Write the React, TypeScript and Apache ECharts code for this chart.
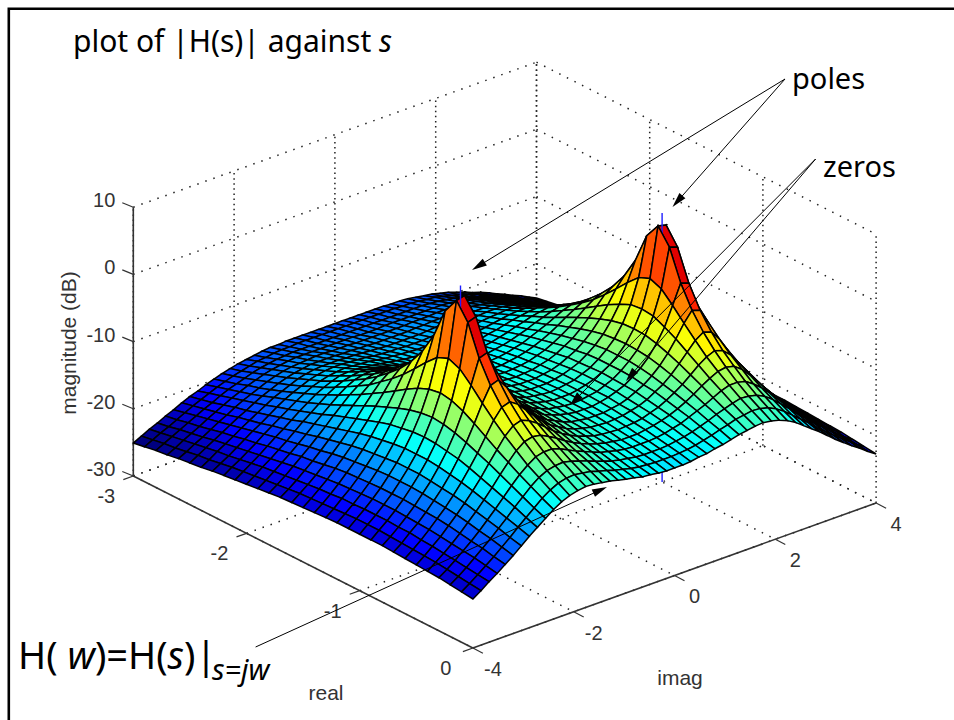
import React, { useEffect, useRef } from "react";
import * as echarts from "echarts";

// Sample positions of the surface
const realGrid = [-3, -2.9, -2.8, -2.7, -2.6, -2.5, -2.4, -2.3, -2.2, -2.1, -2, -1.9, -1.8, -1.7, -1.6, -1.5, -1.4, -1.3, -1.2, -1.1, -1, -0.9, -0.8, -0.7, -0.6, -0.5, -0.4, -0.3, -0.2, -0.1, 0];
const imagGrid = [-4, -3.84, -3.68, -3.52, -3.36, -3.2, -3.04, -2.88, -2.72, -2.56, -2.4, -2.24, -2.08, -1.92, -1.76, -1.6, -1.44, -1.28, -1.12, -0.96, -0.8, -0.64, -0.48, -0.32, -0.16, 0, 0.16, 0.32, 0.48, 0.64, 0.8, 0.96, 1.12, 1.28, 1.44, 1.6, 1.76, 1.92, 2.08, 2.24, 2.4, 2.56, 2.72, 2.88, 3.04, 3.2, 3.36, 3.52, 3.68, 3.84, 4];

// Magnitude in dB. The surface is mirror symmetric about real = -1 and imag = 0:
// one row per |real + 1| (0, 0.1 .. 2), one column per |imag| (0, 0.16 .. 4).
const magnitudeDb: number[][] = [
  [-12.0, -12.0, -11.8, -11.5, -11.1, -10.5, -9.8, -8.8, -7.5, -5.7, -3.2, 0.9, 8.3, 8.0, -0.2, -4.9, -8.1, -10.6, -12.7, -14.4, -15.9, -17.3, -18.5, -19.6, -20.6, -21.6],
  [-12.1, -12.0, -11.8, -11.6, -11.1, -10.6, -9.8, -8.8, -7.6, -5.8, -3.4, 0.2, 6.0, 5.6, -0.9, -5.2, -8.3, -10.7, -12.7, -14.4, -15.9, -17.3, -18.5, -19.6, -20.6, -21.6],
  [-12.1, -12.1, -11.9, -11.6, -11.2, -10.7, -9.9, -9.0, -7.8, -6.2, -4.2, -1.4, 1.5, 1.1, -2.5, -5.9, -8.7, -11.0, -12.9, -14.6, -16.0, -17.4, -18.6, -19.7, -20.7, -21.6],
  [-12.2, -12.2, -12.0, -11.8, -11.4, -10.8, -10.2, -9.3, -8.2, -6.8, -5.1, -3.2, -1.7, -2.1, -4.3, -6.9, -9.3, -11.3, -13.2, -14.8, -16.2, -17.5, -18.7, -19.7, -20.8, -21.7],
  [-12.4, -12.3, -12.2, -11.9, -11.6, -11.1, -10.4, -9.7, -8.7, -7.5, -6.2, -4.9, -4.1, -4.5, -6.0, -8.0, -10.0, -11.8, -13.5, -15.0, -16.4, -17.6, -18.8, -19.9, -20.9, -21.8],
  [-12.6, -12.5, -12.4, -12.2, -11.8, -11.4, -10.8, -10.1, -9.3, -8.3, -7.3, -6.5, -6.0, -6.4, -7.5, -9.1, -10.7, -12.4, -13.9, -15.3, -16.6, -17.8, -19.0, -20.0, -21.0, -21.9],
  [-12.8, -12.8, -12.6, -12.4, -12.1, -11.7, -11.2, -10.6, -9.9, -9.1, -8.4, -7.8, -7.6, -7.9, -8.8, -10.1, -11.5, -13.0, -14.4, -15.7, -16.9, -18.1, -19.2, -20.2, -21.1, -22.0],
  [-13.0, -13.0, -12.9, -12.7, -12.4, -12.1, -11.6, -11.1, -10.6, -10.0, -9.4, -9.0, -9.0, -9.3, -10.1, -11.1, -12.3, -13.6, -14.9, -16.1, -17.3, -18.4, -19.4, -20.4, -21.3, -22.1],
  [-13.3, -13.3, -13.2, -13.0, -12.8, -12.5, -12.1, -11.7, -11.2, -10.8, -10.4, -10.1, -10.2, -10.5, -11.1, -12.0, -13.1, -14.2, -15.4, -16.5, -17.6, -18.6, -19.6, -20.6, -21.5, -22.3],
  [-13.6, -13.6, -13.5, -13.4, -13.2, -12.9, -12.6, -12.2, -11.9, -11.5, -11.3, -11.1, -11.2, -11.5, -12.1, -12.9, -13.9, -14.9, -15.9, -17.0, -18.0, -19.0, -19.9, -20.8, -21.7, -22.5],
  [-14.0, -14.0, -13.9, -13.7, -13.6, -13.3, -13.1, -12.8, -12.5, -12.3, -12.1, -12.0, -12.2, -12.5, -13.0, -13.7, -14.6, -15.5, -16.4, -17.4, -18.4, -19.3, -20.2, -21.0, -21.9, -22.7],
  [-14.3, -14.3, -14.3, -14.1, -14.0, -13.8, -13.6, -13.4, -13.2, -13.0, -12.9, -12.9, -13.0, -13.4, -13.9, -14.5, -15.3, -16.1, -17.0, -17.9, -18.7, -19.6, -20.5, -21.3, -22.1, -22.9],
  [-14.7, -14.7, -14.6, -14.5, -14.4, -14.3, -14.1, -13.9, -13.8, -13.7, -13.6, -13.7, -13.9, -14.2, -14.6, -15.2, -15.9, -16.7, -17.5, -18.3, -19.1, -20.0, -20.8, -21.6, -22.3, -23.1],
  [-15.1, -15.1, -15.0, -15.0, -14.9, -14.8, -14.6, -14.5, -14.4, -14.3, -14.3, -14.4, -14.6, -14.9, -15.4, -15.9, -16.5, -17.2, -18.0, -18.8, -19.5, -20.3, -21.1, -21.9, -22.6, -23.3],
  [-15.5, -15.5, -15.5, -15.4, -15.3, -15.2, -15.1, -15.1, -15.0, -15.0, -15.0, -15.1, -15.3, -15.6, -16.1, -16.6, -17.1, -17.8, -18.5, -19.2, -19.9, -20.7, -21.4, -22.1, -22.9, -23.6],
  [-15.9, -15.9, -15.9, -15.8, -15.8, -15.7, -15.7, -15.6, -15.6, -15.6, -15.6, -15.8, -16.0, -16.3, -16.7, -17.2, -17.7, -18.3, -19.0, -19.6, -20.3, -21.0, -21.7, -22.4, -23.1, -23.8],
  [-16.3, -16.3, -16.3, -16.3, -16.2, -16.2, -16.2, -16.1, -16.1, -16.2, -16.3, -16.4, -16.6, -16.9, -17.3, -17.8, -18.3, -18.8, -19.4, -20.1, -20.7, -21.4, -22.1, -22.7, -23.4, -24.0],
  [-16.8, -16.8, -16.7, -16.7, -16.7, -16.7, -16.7, -16.7, -16.7, -16.7, -16.8, -17.0, -17.2, -17.5, -17.9, -18.3, -18.8, -19.3, -19.9, -20.5, -21.1, -21.8, -22.4, -23.0, -23.7, -24.3],
  [-17.2, -17.2, -17.2, -17.2, -17.2, -17.2, -17.2, -17.2, -17.2, -17.3, -17.4, -17.6, -17.8, -18.1, -18.5, -18.9, -19.3, -19.8, -20.4, -20.9, -21.5, -22.1, -22.7, -23.3, -23.9, -24.5],
  [-17.6, -17.6, -17.6, -17.6, -17.6, -17.6, -17.6, -17.7, -17.7, -17.8, -18.0, -18.1, -18.4, -18.7, -19.0, -19.4, -19.8, -20.3, -20.8, -21.3, -21.9, -22.5, -23.1, -23.6, -24.2, -24.8],
  [-18.1, -18.1, -18.1, -18.1, -18.1, -18.1, -18.1, -18.2, -18.2, -18.3, -18.5, -18.7, -18.9, -19.2, -19.5, -19.9, -20.3, -20.8, -21.2, -21.7, -22.3, -22.8, -23.4, -23.9, -24.5, -25.1],
];

const realTicks = [-3, -2, -1, 0];
const imagTicks = [-4, -2, 0, 2, 4];
const magTicks = [-30, -20, -10, 0, 10];
const poleReal = [-1, -1];
const poleImag = [-2, 2];

const magAt = (i: number, j: number) =>
  magnitudeDb[Math.round(Math.abs(realGrid[i] + 1) * 10)][Math.round(Math.abs(imagGrid[j]) / 0.16)];

// Oblique view of the three axes, in page pixels
function project(re: number, im: number, z: number): number[] {
  return [
    133.3 + 113.2 * (re + 3) + 50.4 * (im + 4),
    476 + 57.33 * (re + 3) - 18.125 * (im + 4) - 6.72 * (z + 30),
  ];
}

const C_MIN = -25.1;
const C_MAX = 7;
const C_TOP = 0.9;
function jet(z: number): string {
  const t = Math.min(C_TOP, Math.max(0, (z - C_MIN) / (C_MAX - C_MIN)));
  const v = Math.floor(t * 64) / 63;
  const f = (c: number) => Math.round(255 * Math.min(1, Math.max(0, 1.5 - Math.abs(4 * v - c))));
  return `rgb(${f(3)},${f(2)},${f(1)})`;
}

const arrowOf = (x1: number, y1: number, x2: number, y2: number, len: number, half: number) => {
  const d = Math.hypot(x2 - x1, y2 - y1);
  const ux = (x2 - x1) / d;
  const uy = (y2 - y1) / d;
  return [
    {
      type: "line",
      z: 100,
      shape: { x1, y1, x2: x2 - ux * 4, y2: y2 - uy * 4 },
      style: { stroke: "#000", lineWidth: 1 },
    },
    {
      type: "polygon",
      z: 100,
      shape: {
        points: [
          [x2, y2],
          [x2 - ux * len - uy * half, y2 - uy * len + ux * half],
          [x2 - ux * len + uy * half, y2 - uy * len - ux * half],
        ],
      },
      style: { fill: "#000" },
    },
  ];
};

const ANNOT_FONT = "'Noto Sans', sans-serif";
const AXIS_FONT = "'Liberation Sans', Arial, sans-serif";

export default function App() {
  const ref = useRef<HTMLDivElement>(null);
  useEffect(() => {
    const chart = echarts.init(ref.current!, undefined, { renderer: "svg" });

    // frame rows: re1, im1, z1, re2, im2, z2, kind (0 dotted, 1 axis line, 2 z tick, 3 real tick, 4 imag tick)
    const frame: number[][] = [];
    const Z0 = magTicks[0];
    const Z1 = magTicks[magTicks.length - 1];
    for (const r of realTicks) {
      frame.push([r, -4, Z0, r, 4, Z0, 0]);
      frame.push([r, 4, Z0, r, 4, Z1, 0]);
      frame.push([r, -4, Z0, r, -4, Z0, 3]);
    }
    for (const m of imagTicks) {
      frame.push([-3, m, Z0, 0, m, Z0, 0]);
      frame.push([-3, m, Z0, -3, m, Z1, 0]);
      frame.push([0, m, Z0, 0, m, Z0, 4]);
    }
    for (const t of magTicks) {
      frame.push([-3, -4, t, -3, 4, t, 0]);
      frame.push([-3, 4, t, 0, 4, t, 0]);
      frame.push([-3, -4, t, -3, -4, t, 2]);
    }
    frame.push([-3, -4, Z0, 0, -4, Z0, 1]);
    frame.push([0, -4, Z0, 0, 4, Z0, 1]);
    frame.push([-3, -4, Z0, -3, -4, Z1, 1]);

    // surface rows: i, j, kind (0 cell, 1 pole marker with its pole index), far corner first
    const surface: number[][] = [];
    for (let i = 0; i < realGrid.length - 1; i++) {
      for (let j = imagGrid.length - 2; j >= 0; j--) {
        surface.push([i, j, 0, 0]);
        poleReal.forEach((pr, k) => {
          if (realGrid[i] === pr && imagGrid[j] < poleImag[k] && poleImag[k] <= imagGrid[j + 1]) {
            surface.push([i, j, 1, k]);
          }
        });
      }
    }

    const labels: number[][] = [
      ...realTicks.map((v) => [v, 0]),
      ...imagTicks.map((v) => [v, 1]),
      ...magTicks.map((v) => [v, 2]),
    ];

    const option: any = {
      animation: false,
      backgroundColor: "#fff",
      grid: { left: 0, top: 0, width: 954, height: 720, show: false },
      xAxis: { type: "value", min: 0, max: 954, show: false },
      yAxis: { type: "value", min: 0, max: 720, inverse: true, show: false },
      series: [
        {
          type: "custom",
          name: "frame",
          z: 1,
          silent: true,
          data: frame,
          renderItem: (_p: any, api: any) => {
            const kind = api.value(6);
            const a = project(api.value(0), api.value(1), api.value(2));
            let b = project(api.value(3), api.value(4), api.value(5));
            if (kind === 2) b = [a[0] - 11, a[1] - 4.5];
            if (kind === 3) b = [a[0] - 10, a[1] + 3.6];
            if (kind === 4) b = [a[0] + 10, a[1] + 5.2];
            const pa = api.coord(a);
            const pb = api.coord(b);
            const vertical = Math.abs(pa[0] - pb[0]) < 0.5;
            return {
              type: "line",
              shape: { x1: pa[0], y1: pa[1], x2: pb[0], y2: pb[1] },
              style:
                kind === 0
                  ? { stroke: "#222", lineWidth: 1.5, lineDash: vertical ? [1.5, 3.6] : [1.5, 7] }
                  : { stroke: "#333", lineWidth: kind === 1 ? 1.6 : 1.2 },
            };
          },
        },
        {
          type: "custom",
          name: "surface",
          z: 2,
          silent: true,
          data: surface,
          renderItem: (_p: any, api: any) => {
            const i = api.value(0);
            const j = api.value(1);
            if (api.value(2) === 1) {
              const k = api.value(3);
              const a = api.coord(project(poleReal[k], poleImag[k], Z0));
              const b = api.coord(project(poleReal[k], poleImag[k], Z1));
              return {
                type: "line",
                shape: { x1: a[0], y1: a[1], x2: b[0], y2: b[1] },
                style: { stroke: "#1e1eff", lineWidth: 1.4 },
              };
            }
            const corners = [
              [i, j],
              [i + 1, j],
              [i + 1, j + 1],
              [i, j + 1],
            ];
            const zs = corners.map(([a, b]) => magAt(a, b));
            return {
              type: "polygon",
              shape: {
                points: corners.map(([a, b], k) => api.coord(project(realGrid[a], imagGrid[b], zs[k]))),
              },
              style: { fill: jet(zs[0]), stroke: "#000", lineWidth: 1.5 },
            };
          },
        },
        {
          type: "custom",
          name: "tick labels",
          z: 3,
          silent: true,
          data: labels,
          renderItem: (_p: any, api: any) => {
            const v = api.value(0);
            const kind = api.value(1);
            const base =
              kind === 0
                ? project(v, -4, Z0)
                : kind === 1
                ? project(0, v, Z0)
                : project(-3, -4, v);
            const off = kind === 0 ? [-27, 20] : kind === 1 ? [20, 21] : [-18, -7];
            const p = api.coord([base[0] + off[0], base[1] + off[1]]);
            return {
              type: "text",
              x: p[0],
              y: p[1],
              style: {
                text: String(v),
                fontFamily: AXIS_FONT,
                fontSize: 20,
                fill: "#333",
                align: kind === 2 ? "right" : "center",
                verticalAlign: "middle",
              },
            };
          },
        },
      ],
      graphic: [
        {
          type: "polyline",
          z: 100,
          shape: { points: [[8.8, 720], [8.8, 8.8], [954, 8.8]] },
          style: { stroke: "#000", lineWidth: 2.6, fill: "none" },
        },
        {
          type: "text",
          z: 100,
          x: 68,
          y: 343,
          rotation: Math.PI / 2,
          style: { text: "magnitude (dB)", fontFamily: AXIS_FONT, fontSize: 21, fill: "#333", align: "center", verticalAlign: "middle" },
        },
        { type: "text", z: 100, x: 326, y: 692, style: { text: "real", fontFamily: AXIS_FONT, fontSize: 21, fill: "#333", align: "center", verticalAlign: "middle" } },
        { type: "text", z: 100, x: 680, y: 677, style: { text: "imag", fontFamily: AXIS_FONT, fontSize: 21, fill: "#333", align: "center", verticalAlign: "middle" } },
        {
          type: "text",
          z: 100,
          x: 73,
          y: 55,
          style: {
            text: "{a|plot of |H(s)| against }{b|s}",
            verticalAlign: "bottom",
            rich: {
              a: { fontFamily: ANNOT_FONT, fontSize: 30, fill: "#000" },
              b: { fontFamily: ANNOT_FONT, fontSize: 30, fontStyle: "italic", fill: "#000" },
            },
          },
        },
        { type: "text", z: 100, x: 792, y: 77, style: { text: "poles", fontFamily: ANNOT_FONT, fontSize: 29, fill: "#000", align: "left", verticalAlign: "middle" } },
        { type: "text", z: 100, x: 823, y: 165, style: { text: "zeros", fontFamily: ANNOT_FONT, fontSize: 29, fill: "#000", align: "left", verticalAlign: "middle" } },
        {
          type: "text",
          z: 100,
          x: 18,
          y: 654,
          style: {
            text: "{a|H( }{b|w}{a|)=H(}{b|s}{a|)|}",
            verticalAlign: "middle",
            rich: {
              a: { fontFamily: ANNOT_FONT, fontSize: 38, fill: "#000" },
              b: { fontFamily: ANNOT_FONT, fontSize: 38, fontStyle: "italic", fill: "#000" },
            },
          },
        },
        {
          type: "text",
          z: 100,
          x: 212,
          y: 668,
          style: { text: "s=jw", fontFamily: ANNOT_FONT, fontSize: 29, fontStyle: "italic", fill: "#000", align: "left", verticalAlign: "middle" },
        },
        ...arrowOf(785, 79, 472, 270, 15, 4),
        ...arrowOf(785, 79, 672.5, 207, 15, 4),
        ...arrowOf(815.6, 159, 570, 405, 14, 4),
        ...arrowOf(815.6, 159, 626, 381, 14, 4),
        ...arrowOf(255.6, 647, 607, 487, 15, 4),
      ],
    };
    chart.setOption(option);
    return () => chart.dispose();
  }, []);
  return <div ref={ref} style={{ position: "absolute", left: 0, top: 0, width: 954, height: 720, background: "#fff" }} />;
}
